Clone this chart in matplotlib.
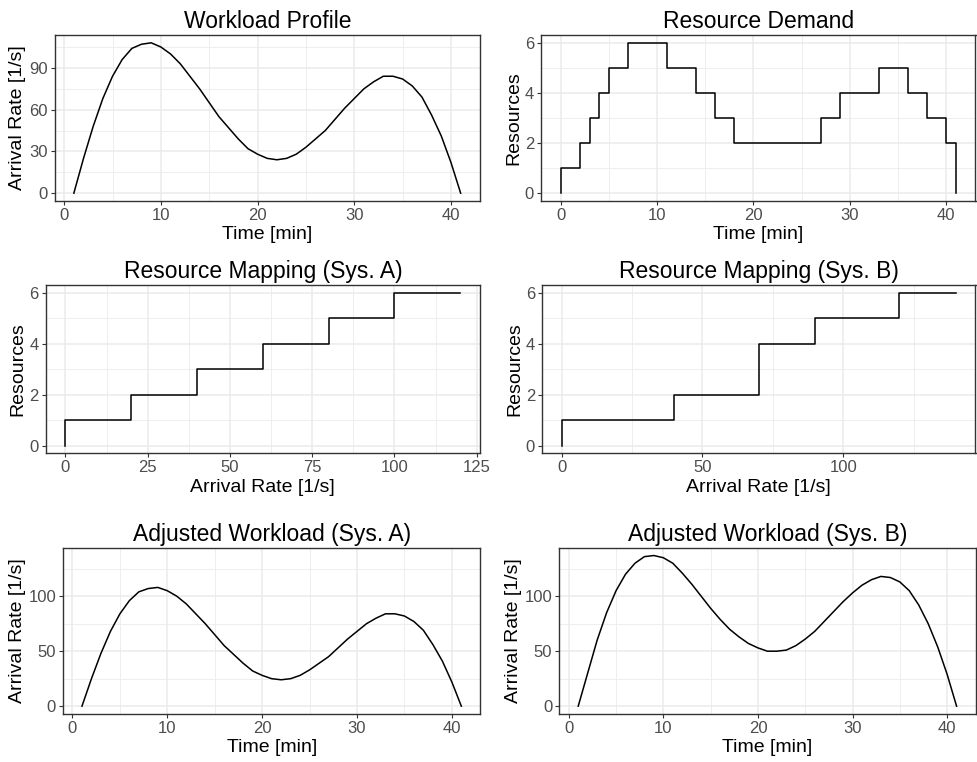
import matplotlib
matplotlib.use("Agg")
import matplotlib.pyplot as plt
from matplotlib.ticker import FixedLocator

plt.rcParams['font.family'] = ['Liberation Sans', 'DejaVu Sans']

# ---------------- data ----------------
minutes = list(range(1, 42))
workload = [0, 25, 48, 68, 84, 96, 104, 107, 108, 105, 100, 93, 84, 75, 65, 55, 47, 39, 32,
            28, 25, 24, 25, 28, 33, 39, 45, 53, 61, 68, 75, 80, 84, 84, 82, 77, 69, 56, 41, 22, 0]

demand_time = list(range(0, 42))
demand_res = [1, 1, 2, 3, 4, 5, 5, 6, 6, 6, 6, 5, 5, 5, 4, 4, 3, 3, 2, 2, 2, 2, 2, 2, 2, 2, 2,
              3, 3, 4, 4, 4, 4, 5, 5, 5, 4, 4, 3, 3, 2, 0]

map_a_rate = [0, 20, 40, 60, 80, 100, 120]
map_a_res = [1, 2, 3, 4, 5, 6, 6]
map_b_rate = [0, 40, 70, 90, 120, 140]
map_b_res = [1, 2, 4, 5, 6, 6]

adjusted_a = workload
adjusted_b = [0, 30, 60, 85, 105, 120, 130, 136, 137, 135, 130, 121, 111, 100, 89, 79, 70, 63,
              57, 53, 50, 50, 51, 55, 61, 68, 77, 86, 95, 103, 110, 115, 118, 117, 113, 105,
              92, 75, 54, 29, 0]

# ---------------- figure ----------------
W, H = 977, 762
fig = plt.figure(figsize=(W / 100, H / 100), dpi=100)

def ax_px(x0, y0, x1, y1):
    return fig.add_axes([x0 / W, 1 - y1 / H, (x1 - x0) / W, (y1 - y0) / H])

GRID = '#EBEBEB'
BORDER = '#333333'
TICKC = '#4D4D4D'

def style(ax, title, xlabel, ylabel, xlim, ylim, xmaj, ymaj):
    ax.set_xlim(*xlim)
    ax.set_ylim(*ylim)
    ax.xaxis.set_major_locator(FixedLocator(xmaj))
    ax.yaxis.set_major_locator(FixedLocator(ymaj))
    xmin = [(a + b) / 2 for a, b in zip(xmaj[:-1], xmaj[1:])]
    ymin = [(a + b) / 2 for a, b in zip(ymaj[:-1], ymaj[1:])]
    dx = xmaj[1] - xmaj[0]
    dy = ymaj[1] - ymaj[0]
    xmin = [xmaj[0] - dx / 2] + xmin + [xmaj[-1] + dx / 2]
    ymin = [ymaj[0] - dy / 2] + ymin + [ymaj[-1] + dy / 2]
    ax.xaxis.set_minor_locator(FixedLocator(xmin))
    ax.yaxis.set_minor_locator(FixedLocator(ymin))
    ax.grid(True, which='major', color=GRID, lw=1.1, zorder=0)
    ax.grid(True, which='minor', color=GRID, lw=0.6, zorder=0)
    ax.set_axisbelow(True)
    ax.tick_params(which='minor', length=0)
    ax.tick_params(which='major', length=3, width=0.8, color=BORDER, labelcolor=TICKC,
                   labelsize=12, pad=2)
    for s in ax.spines.values():
        s.set_color(BORDER)
        s.set_linewidth(1.0)
    ax.set_title(title, fontsize=16.5, pad=5)
    ax.set_xlabel(xlabel, fontsize=14, labelpad=2.5)
    ax.set_ylabel(ylabel, fontsize=14, labelpad=2)

LW = 1.1

# 1 Workload profile
ax1 = ax_px(54.5, 35.3, 480, 200.7)
ax1.plot(minutes, workload, color='black', lw=LW)
style(ax1, 'Workload Profile', 'Time [min]', 'Arrival Rate [1/s]',
      (-1, 43), (-5.4, 113.4), [0, 10, 20, 30, 40], [0, 30, 60, 90])

# 2 Resource demand
ax2 = ax_px(541, 35.3, 975.5, 201)
ax2.step([0] + demand_time, [0] + demand_res, where='post', color='black', lw=LW)
style(ax2, 'Resource Demand', 'Time [min]', 'Resources',
      (-2.05, 43.05), (-0.3, 6.3), [0, 10, 20, 30, 40], [0, 2, 4, 6])

# 3 Mapping A
ax3 = ax_px(45.7, 285, 480, 453.3)
ax3.step([0] + map_a_rate, [0] + map_a_res, where='post', color='black', lw=LW)
style(ax3, 'Resource Mapping (Sys. A)', 'Arrival Rate [1/s]', 'Resources',
      (-6, 126), (-0.3, 6.3), [0, 25, 50, 75, 100, 125], [0, 2, 4, 6])

# 4 Mapping B
ax4 = ax_px(542, 285, 975.5, 453.3)
ax4.step([0] + map_b_rate, [0] + map_b_res, where='post', color='black', lw=LW)
style(ax4, 'Resource Mapping (Sys. B)', 'Arrival Rate [1/s]', 'Resources',
      (-7, 147), (-0.3, 6.3), [0, 50, 100], [0, 2, 4, 6])

# 5 Adjusted A
ymax = max(adjusted_b)
ylim = (-0.05 * ymax, 1.05 * ymax)
ax5 = ax_px(63, 548, 480.3, 713.7)
ax5.plot(minutes, adjusted_a, color='black', lw=LW)
style(ax5, 'Adjusted Workload (Sys. A)', 'Time [min]', 'Arrival Rate [1/s]',
      (-1, 43), ylim, [0, 10, 20, 30, 40], [0, 50, 100])

# 6 Adjusted B
ax6 = ax_px(559.3, 548, 975.5, 713.7)
ax6.plot(minutes, adjusted_b, color='black', lw=LW)
style(ax6, 'Adjusted Workload (Sys. B)', 'Time [min]', 'Arrival Rate [1/s]',
      (-1, 43), ylim, [0, 10, 20, 30, 40], [0, 50, 100])

fig.savefig('out.png', dpi=100, facecolor='white')
